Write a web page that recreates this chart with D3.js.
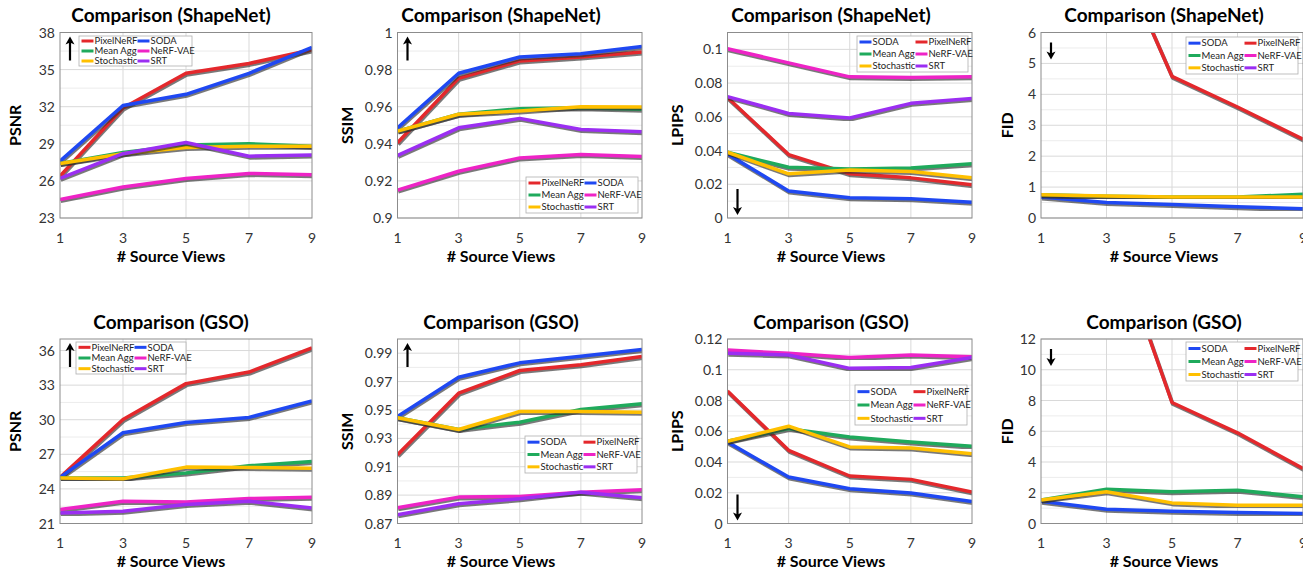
<!DOCTYPE html>
<html>
<head>
<meta charset="utf-8">
<script src="https://cdn.jsdelivr.net/npm/d3@7"></script>
<style>
  body { margin: 0; background: #fff; }
  text { font-family: Lato, "Open Sans", sans-serif; }
</style>
</head>
<body>
<svg id="chart" width="1303" height="569"></svg>
<script>
// x axis
const views = [1, 3, 5, 7, 9];

const methods = ["PixelNeRF", "SODA", "Mean Agg", "NeRF-VAE", "Stochastic", "SRT"];
const methodColors = {
    "PixelNeRF": "#e4282c",
    "SODA": "#1f48f2",
    "Mean Agg": "#1faa5c",
    "NeRF-VAE": "#ee23c6",
    "Stochastic": "#ffc000",
    "SRT": "#9b2ef2"
};

// ShapeNet, one row per method in the order of `methods`
const shapenetPsnr = [
    [26.4, 31.9, 34.7, 35.5, 36.6],
    [27.6, 32.1, 33.0, 34.7, 36.8],
    [27.4, 28.3, 28.9, 29.0, 28.8],
    [24.5, 25.5, 26.2, 26.6, 26.5],
    [27.4, 28.2, 28.7, 28.8, 28.8],
    [26.2, 28.2, 29.1, 28.0, 28.1]
];
const shapenetSsim = [
    [0.9405, 0.9753, 0.9847, 0.9868, 0.9895],
    [0.9486, 0.978, 0.9868, 0.9886, 0.9924],
    [0.9468, 0.9559, 0.9589, 0.9595, 0.9586],
    [0.915, 0.9252, 0.9324, 0.9342, 0.9331],
    [0.9468, 0.9559, 0.9577, 0.96, 0.9598],
    [0.9337, 0.9486, 0.9537, 0.9477, 0.9465]
];
const shapenetLpips = [
    [0.0715, 0.0376, 0.0262, 0.0238, 0.0197],
    [0.038, 0.016, 0.012, 0.0114, 0.0094],
    [0.039, 0.0301, 0.0291, 0.0297, 0.0321],
    [0.1004, 0.092, 0.0837, 0.0833, 0.0837],
    [0.039, 0.0262, 0.0285, 0.0276, 0.0238],
    [0.072, 0.062, 0.0593, 0.068, 0.0709]
];
// NeRF-VAE and SRT FID lie far above the plotted range
const shapenetFid = [
    [17, 9.4, 4.58, 3.59, 2.55],
    [0.68, 0.5, 0.44, 0.36, 0.3],
    [0.755, 0.7, 0.68, 0.68, 0.766],
    [null, null, null, null, null],
    [0.755, 0.71, 0.68, 0.68, 0.68],
    [null, null, null, null, null]
];

// GSO
const gsoPsnr = [
    [25.0, 30.02, 33.13, 34.13, 36.23],
    [25.0, 28.87, 29.76, 30.2, 31.63],
    [24.94, 24.94, 25.37, 26.0, 26.37],
    [22.21, 22.93, 22.87, 23.16, 23.27],
    [24.94, 24.88, 25.89, 25.86, 25.8],
    [21.92, 22.06, 22.64, 22.93, 22.35]
];
const gsoSsim = [
    [0.9184, 0.9618, 0.9778, 0.9818, 0.9877],
    [0.9454, 0.9731, 0.9832, 0.9879, 0.9926],
    [0.9445, 0.9362, 0.9414, 0.9503, 0.9543],
    [0.8811, 0.8886, 0.8891, 0.8921, 0.8938],
    [0.9445, 0.9362, 0.9489, 0.9489, 0.9484],
    [0.8761, 0.8839, 0.8874, 0.8921, 0.8881]
];
const gsoLpips = [
    [0.0861, 0.0476, 0.0309, 0.0287, 0.0204],
    [0.053, 0.0302, 0.0226, 0.0198, 0.0143],
    [0.0535, 0.0617, 0.0563, 0.053, 0.0502],
    [0.1128, 0.1107, 0.108, 0.1096, 0.1085],
    [0.0535, 0.0633, 0.0498, 0.0491, 0.0454],
    [0.1107, 0.1096, 0.1009, 0.1015, 0.108]
];
const gsoFid = [
    [30, 20, 7.87, 5.9, 3.58],
    [1.45, 0.93, 0.8, 0.72, 0.65],
    [1.52, 2.23, 2.06, 2.17, 1.74],
    [null, null, null, null, null],
    [1.52, 2.06, 1.34, 1.19, 1.19],
    [null, null, null, null, null]
];

// tick labels for each y axis
const psnrTicksShapeNet = [23, 26, 29, 32, 35, 38];
const ssimTicksShapeNet = [0.9, 0.92, 0.94, 0.96, 0.98, 1];
const lpipsTicksShapeNet = [0, 0.02, 0.04, 0.06, 0.08, 0.1];
const fidTicksShapeNet = [0, 1, 2, 3, 4, 5, 6];
const psnrTicksGso = [21, 24, 27, 30, 33, 36];
const ssimTicksGso = [0.87, 0.89, 0.91, 0.93, 0.95, 0.97, 0.99];
const lpipsTicksGso = [0, 0.02, 0.04, 0.06, 0.08, 0.1, 0.12];
const fidTicksGso = [0, 2, 4, 6, 8, 10, 12];

const pixFirst = ["PixelNeRF", "SODA", "Mean Agg", "NeRF-VAE", "Stochastic", "SRT"];
const sodaFirst = ["SODA", "PixelNeRF", "Mean Agg", "NeRF-VAE", "Stochastic", "SRT"];

// layout
const rows = [{ top: 32.5, bottom: 218, title: 22, tick: 243, xlab: 262 },
              { top: 339, bottom: 523.5, title: 329, tick: 548, xlab: 567 }];
const cols = [{ left: 60, right: 312, center: 171, ylab: 15 },
              { left: 397.5, right: 642, center: 501, ylab: 347 },
              { left: 727.5, right: 972, center: 831, ylab: 677 },
              { left: 1041, right: 1303, center: 1164, ylab: 1007 }];

const panels = [
    { r: 0, c: 0, title: "Comparison (ShapeNet)", ylab: "PSNR", data: shapenetPsnr, domain: [23, 38], ticks: psnrTicksShapeNet,
      order: pixFirst, legend: { x: 19, y: 3.5, w: 113, h: 30 }, arrow: "up" },
    { r: 0, c: 1, title: "Comparison (ShapeNet)", ylab: "SSIM", data: shapenetSsim, domain: [0.9, 1], ticks: ssimTicksShapeNet,
      order: pixFirst, legend: { x: 128.5, y: 144.5, w: 112, h: 36 }, arrow: "up" },
    { r: 0, c: 2, title: "Comparison (ShapeNet)", ylab: "LPIPS", data: shapenetLpips, domain: [0, 0.11], ticks: lpipsTicksShapeNet,
      order: sodaFirst, legend: { x: 129.5, y: 3.5, w: 111, h: 36 }, arrow: "down" },
    { r: 0, c: 3, title: "Comparison (ShapeNet)", ylab: "FID", data: shapenetFid, domain: [0, 6], ticks: fidTicksShapeNet,
      order: sodaFirst, legend: { x: 145, y: 4.5, w: 112, h: 37 }, arrow: "downTop" },
    { r: 1, c: 0, title: "Comparison (GSO)", ylab: "PSNR", data: gsoPsnr, domain: [21, 37], ticks: psnrTicksGso,
      order: pixFirst, legend: { x: 16, y: 3, w: 110, h: 32 }, arrow: "up" },
    { r: 1, c: 1, title: "Comparison (GSO)", ylab: "SSIM", data: gsoSsim, domain: [0.87, 1], ticks: ssimTicksGso,
      order: sodaFirst, legend: { x: 127.5, y: 97, w: 112, h: 37 }, arrow: "up" },
    { r: 1, c: 2, title: "Comparison (GSO)", ylab: "LPIPS", data: gsoLpips, domain: [0, 0.12], ticks: lpipsTicksGso,
      order: sodaFirst, legend: { x: 127.5, y: 46, w: 112, h: 40 }, arrow: "down" },
    { r: 1, c: 3, title: "Comparison (GSO)", ylab: "FID", data: gsoFid, domain: [0, 12], ticks: fidTicksGso,
      order: sodaFirst, legend: { x: 145, y: 3, w: 112, h: 39 }, arrow: "downTop" }
];

const svg = d3.select("#chart");
const defs = svg.append("defs");
defs.append("filter").attr("id", "soft")
    .attr("x", "-5%").attr("y", "-5%").attr("width", "110%").attr("height", "110%")
    .append("feGaussianBlur").attr("stdDeviation", 0.7);

const fmt = d => String(+d.toFixed(4));

panels.forEach((p, i) => {
    const row = rows[p.r], col = cols[p.c];
    const x = d3.scaleLinear().domain([1, 9]).range([col.left, col.right]);
    const y = d3.scaleLinear().domain(p.domain).range([row.bottom, row.top]);
    const g = svg.append("g");

    // minor + major gridlines
    const step = p.ticks[1] - p.ticks[0];
    const minor = [];
    for (let k = 0; k < p.ticks.length; k++) {
        const v = p.ticks[k] + step / 2;
        if (v < p.domain[1]) minor.push(v);
    }
    g.selectAll(".minor").data(minor).enter().append("line")
        .attr("x1", col.left).attr("x2", col.right)
        .attr("y1", d => y(d)).attr("y2", d => y(d))
        .attr("stroke", "#ececec").attr("stroke-width", 1);
    g.selectAll(".major").data(p.ticks).enter().append("line")
        .attr("x1", col.left).attr("x2", col.right)
        .attr("y1", d => y(d)).attr("y2", d => y(d))
        .attr("stroke", "#d9d9d9").attr("stroke-width", 1);
    g.selectAll(".vgrid").data(views.slice(1, -1)).enter().append("line")
        .attr("x1", d => x(d)).attr("x2", d => x(d))
        .attr("y1", row.top).attr("y2", row.bottom)
        .attr("stroke", "#d9d9d9").attr("stroke-width", 1);

    // tick labels
    g.selectAll(".ytick").data(p.ticks).enter().append("text")
        .attr("x", col.left - 5).attr("y", d => y(d) + 5)
        .attr("text-anchor", "end").attr("font-size", 14).attr("fill", "#333")
        .text(fmt);
    g.selectAll(".xtick").data(views).enter().append("text")
        .attr("x", d => x(d)).attr("y", row.tick)
        .attr("text-anchor", "middle").attr("font-size", 14).attr("fill", "#333")
        .text(d => d);

    // titles
    g.append("text").attr("x", col.center).attr("y", row.title)
        .attr("text-anchor", "middle").attr("font-size", 19).attr("font-weight", 700)
        .text(p.title);
    g.append("text").attr("x", col.center).attr("y", row.xlab)
        .attr("text-anchor", "middle").attr("font-size", 16).attr("font-weight", 700)
        .text("# Source Views");
    g.append("text")
        .attr("transform", `translate(${col.ylab + 6},${(row.top + row.bottom) / 2}) rotate(-90)`)
        .attr("text-anchor", "middle").attr("font-size", 16).attr("font-weight", 700)
        .text(p.ylab);

    // series
    defs.append("clipPath").attr("id", `clip${i}`)
        .append("rect").attr("x", col.left).attr("y", row.top)
        .attr("width", col.right - col.left).attr("height", row.bottom - row.top);
    const lines = g.append("g").attr("clip-path", `url(#clip${i})`);
    const line = d3.line()
        .defined(d => d.v !== null)
        .x(d => x(d.x)).y(d => y(d.v));

    p.order.forEach(m => {
        const vals = p.data[methods.indexOf(m)];
        const pts = views.map((v, k) => ({ x: v, v: vals[k] }));
        lines.append("path").datum(pts)
            .attr("d", line).attr("fill", "none")
            .attr("transform", "translate(0.8,1.6)")
            .attr("stroke", "#333").attr("stroke-opacity", 0.65)
            .attr("stroke-width", 3.8).attr("stroke-linejoin", "round")
            .attr("filter", "url(#soft)");
        lines.append("path").datum(pts)
            .attr("d", line).attr("fill", "none")
            .attr("stroke", methodColors[m])
            .attr("stroke-width", 3.5).attr("stroke-linejoin", "round");
    });

    // plot frame
    g.append("rect").attr("x", col.left).attr("y", row.top)
        .attr("width", col.right - col.left).attr("height", row.bottom - row.top)
        .attr("fill", "none").attr("stroke", "#8c8c8c").attr("stroke-width", 1);

    // legend
    const L = p.legend;
    const lg = g.append("g").attr("transform", `translate(${col.left + L.x},${row.top + L.y})`);
    lg.append("rect").attr("width", L.w).attr("height", L.h)
        .attr("fill", "#fff").attr("stroke", "#b0b0b0").attr("stroke-width", 0.8);
    const rowH = L.h / 3;
    p.order.forEach((m, k) => {
        const cx = (k % 2) * 56 + 2.5;
        const cy = Math.floor(k / 2) * rowH + rowH / 2;
        lg.append("line").attr("x1", cx).attr("x2", cx + 12)
            .attr("y1", cy).attr("y2", cy)
            .attr("stroke", methodColors[m]).attr("stroke-width", 3);
        lg.append("text").attr("x", cx + 13).attr("y", cy + 3.3)
            .attr("font-size", 9.5).attr("fill", "#222")
            .text(m);
    });

    // better-direction arrow
    const ax = col.left + 10;
    let y1, y2;
    if (p.arrow === "up") { y1 = row.top + 28; y2 = row.top + 4; }
    else if (p.arrow === "down") { y1 = row.bottom - 29; y2 = row.bottom - 3; }
    else { y1 = row.top + 10; y2 = row.top + 27; }
    const dir = y2 < y1 ? 1 : -1;
    g.append("line").attr("x1", ax).attr("x2", ax)
        .attr("y1", y1).attr("y2", y2 + dir * 5)
        .attr("stroke", "#000").attr("stroke-width", 2.2);
    g.append("path")
        .attr("d", `M${ax - 4.5},${y2 + dir * 8}L${ax},${y2}L${ax + 4.5},${y2 + dir * 8}L${ax},${y2 + dir * 6}Z`)
        .attr("fill", "#000");
});
</script>
</body>
</html>
